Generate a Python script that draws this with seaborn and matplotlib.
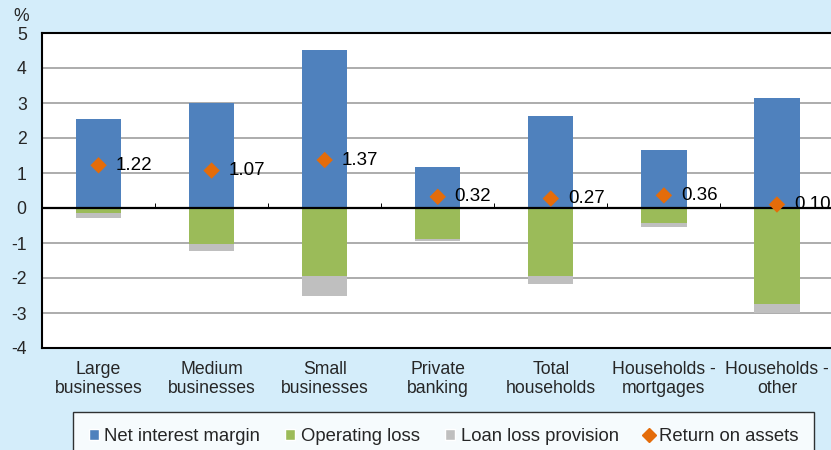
import numpy as np
import matplotlib
matplotlib.use('Agg')
import matplotlib.pyplot as plt
from matplotlib.lines import Line2D
from matplotlib.patches import Patch
import seaborn as sns

categories = ['Large\nbusinesses', 'Medium\nbusinesses', 'Small\nbusinesses', 'Private\nbanking',
              'Total\nhouseholds', 'Households -\nmortgages', 'Households -\nother']
net_interest = [2.54, 3.00, 4.51, 1.17, 2.63, 1.66, 3.14]
operating_loss = [-0.14, -1.03, -1.94, -0.89, -1.94, -0.43, -2.74]
loan_loss = [-0.15, -0.19, -0.57, -0.06, -0.23, -0.10, -0.26]
roa = [1.22, 1.07, 1.37, 0.32, 0.27, 0.36, 0.10]
roa_labels = ['1.22', '1.07', '1.37', '0.32', '0.27', '0.36', '0.10']

bg = '#D4EDFA'
c_nim = '#4F81BD'
c_op = '#9BBB59'
c_llp = '#BFBFBF'
c_roa = '#E46C0A'

sns.set_style('white')
plt.rcParams['font.family'] = ['Liberation Sans', 'DejaVu Sans']
plt.rcParams['axes.unicode_minus'] = False

fig = plt.figure(figsize=(8.31, 4.5), dpi=100, facecolor=bg)
ax = fig.add_axes([42 / 831, 1 - 348 / 450, 1 - 42 / 831 + 0.003, 315 / 450])
ax.set_facecolor('white')

sns.barplot(x=categories, y=net_interest, color=c_nim, width=0.4, saturation=1, linewidth=0,
            ax=ax, zorder=3)
sns.barplot(x=categories, y=operating_loss, color=c_op, width=0.4, saturation=1, linewidth=0,
            ax=ax, zorder=3)
sns.barplot(x=categories, y=loan_loss, bottom=operating_loss, color=c_llp, width=0.4,
            saturation=1, linewidth=0, ax=ax, zorder=3)
sns.scatterplot(x=categories, y=roa, marker='D', s=70, color=c_roa, edgecolor='none', ax=ax, zorder=5)

# data labels sit just right of the diamonds
for i, (v, lab) in enumerate(zip(roa, roa_labels)):
    ax.text(i + 0.15, v, lab, ha='left', va='center', fontsize=13.5, color='black', zorder=6)

ax.set_ylim(-4, 5)
ax.set_xlim(-0.5, len(categories) - 0.5)
ax.set_yticks(range(-4, 6))
ax.yaxis.grid(True, color='#A6A6A6', linewidth=1.3, zorder=0)
ax.xaxis.grid(False)
ax.axhline(0, color='black', linewidth=1.6, zorder=4)
bounds = np.arange(len(categories) - 1) + 0.5
ax.vlines(bounds, 0, 0.13, color='black', linewidth=0.7, zorder=4)

for s in ax.spines.values():
    s.set_color('black')
    s.set_linewidth(1.5)
    s.set_visible(True)

ax.tick_params(axis='y', direction='in', length=4, color='black', pad=11, labelsize=12.7)
ax.tick_params(axis='x', length=0, pad=9, labelsize=12.7)
ax.set_xlabel('')
ax.set_ylabel('')

fig.text(13 / 831, 1 - 8 / 450, '%', fontsize=12.7, ha='left', va='top')

handles = [Patch(facecolor=c_nim, label='Net interest margin'),
           Patch(facecolor=c_op, label='Operating loss'),
           Patch(facecolor=c_llp, label='Loan loss provision'),
           Line2D([], [], marker='D', linestyle='none', color=c_roa, markersize=7,
                  label='Return on assets')]
leg = fig.legend(handles=handles, loc='upper left', bbox_to_anchor=(73 / 831, 1 - 412 / 450),
                 ncol=4, fontsize=13.3, frameon=True, fancybox=False, edgecolor='black',
                 handlelength=0.55, handleheight=0.55, handletextpad=0.3, columnspacing=1.35,
                 borderpad=0.85, borderaxespad=0)
leg.get_frame().set_linewidth(1.0)
leg.get_frame().set_facecolor('white')

fig.savefig('out.png', dpi=100, facecolor=bg)
